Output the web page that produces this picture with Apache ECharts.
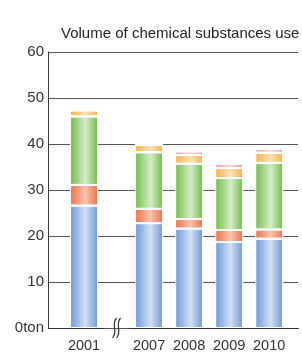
<!DOCTYPE html>
<html>
<head>
<meta charset="utf-8">
<script src="https://cdn.jsdelivr.net/npm/echarts@6/dist/echarts.min.js"></script>
<style>
  html, body { margin: 0; padding: 0; background: #fff; }
  #chart { width: 302px; height: 354px; }
</style>
</head>
<body>
<div id="chart"></div>
<script>
const years = [2001, 2007, 2008, 2009, 2010]
const blue = [26.6, 22.8, 21.6, 18.7, 19.4]
const red = [4.5, 3.1, 2.1, 2.6, 2.0]
const green = [14.9, 12.3, 12.0, 11.3, 14.5]
const orange = [1.3, 1.6, 1.9, 2.2, 2.2]
const pink = [0, 0, 0.8, 0.9, 0.8]
const yTicks = [0, 10, 20, 30, 40, 50, 60]

const font = '"Liberation Sans", Arial, sans-serif'

// edge / highlight colours for the cylinder-like bars
const grad = (edge, mid) => new echarts.graphic.LinearGradient(0, 0, 1, 0, [
    { offset: 0, color: edge },
    { offset: 0.55, color: mid },
    { offset: 1, color: edge }
])

// value first so the stack runs on y (both axes are value axes here)
const makeSeries = (name, values, edge, mid) => ({
    name: name,
    type: 'bar',
    stack: 'total',
    barWidth: 28,
    encode: { x: 1, y: 0 },
    data: values.map((v, i) => [v, years[i]]),
    itemStyle: {
        color: grad(edge, mid),
        borderColor: '#fff',
        borderWidth: 1
    }
})

const chart = echarts.init(document.getElementById('chart'))

chart.setOption({
    animation: false,
    title: {
        text: 'Volume of chemical substances use',
        left: 56,
        top: 21,
        textStyle: { fontFamily: font, fontSize: 15, fontWeight: 'normal', color: '#222' }
    },
    grid: { left: 48, right: 4, top: 52, bottom: 26 },
    xAxis: {
        type: 'value',
        min: 2000.1,
        max: 2010.72,
        breaks: [{ start: 2001.5, end: 2006.5, gap: '10%' }],
        breakArea: {
            show: false,
            itemStyle: { color: 'rgba(0,0,0,0)', borderWidth: 0, opacity: 0 }
        },
        axisLine: { show: true, lineStyle: { color: '#333', width: 1 } },
        axisTick: { show: false },
        splitLine: { show: false },
        axisLabel: {
            customValues: years,
            formatter: (v) => String(v),
            margin: 10,
            fontFamily: font,
            fontSize: 14.5,
            color: '#333'
        }
    },
    yAxis: {
        type: 'value',
        min: yTicks[0],
        max: yTicks[yTicks.length - 1],
        interval: 10,
        axisLine: { show: true, lineStyle: { color: '#333', width: 1 } },
        axisTick: { show: false },
        splitLine: { lineStyle: { color: '#555', width: 1 } },
        axisLabel: {
            margin: 4,
            fontFamily: font,
            fontSize: 15,
            color: '#333',
            formatter: (v) => (v === 0 ? '0ton' : String(v))
        }
    },
    series: [
        makeSeries('blue', blue, '#6b99d8', '#d3dff4'),
        makeSeries('red', red, '#ee7049', '#f9c4ae'),
        makeSeries('green', green, '#6fbd47', '#d6ecc7'),
        makeSeries('orange', orange, '#f8b04c', '#fde2b6'),
        makeSeries('pink', pink, '#f2909a', '#fbd3d7')
    ]
})

// break marker on the x axis, placed in the middle of the collapsed range
const a = chart.convertToPixel({ xAxisIndex: 0 }, 2001.5)
const b = chart.convertToPixel({ xAxisIndex: 0 }, 2006.5)
const y0 = chart.convertToPixel({ yAxisIndex: 0 }, 0)
const cx = (a + b) / 2
const wave = (dx) => ({
    type: 'bezierCurve',
    shape: {
        x1: cx + dx + 2, y1: y0 - 10,
        cpx1: cx + dx - 4, cpy1: y0 - 3,
        cpx2: cx + dx + 4, cpy2: y0 + 3,
        x2: cx + dx - 2, y2: y0 + 10
    },
    style: { stroke: '#333', lineWidth: 1.2, fill: null },
    z: 100
})
chart.setOption({ graphic: [wave(-2), wave(2)] })
</script>
</body>
</html>
